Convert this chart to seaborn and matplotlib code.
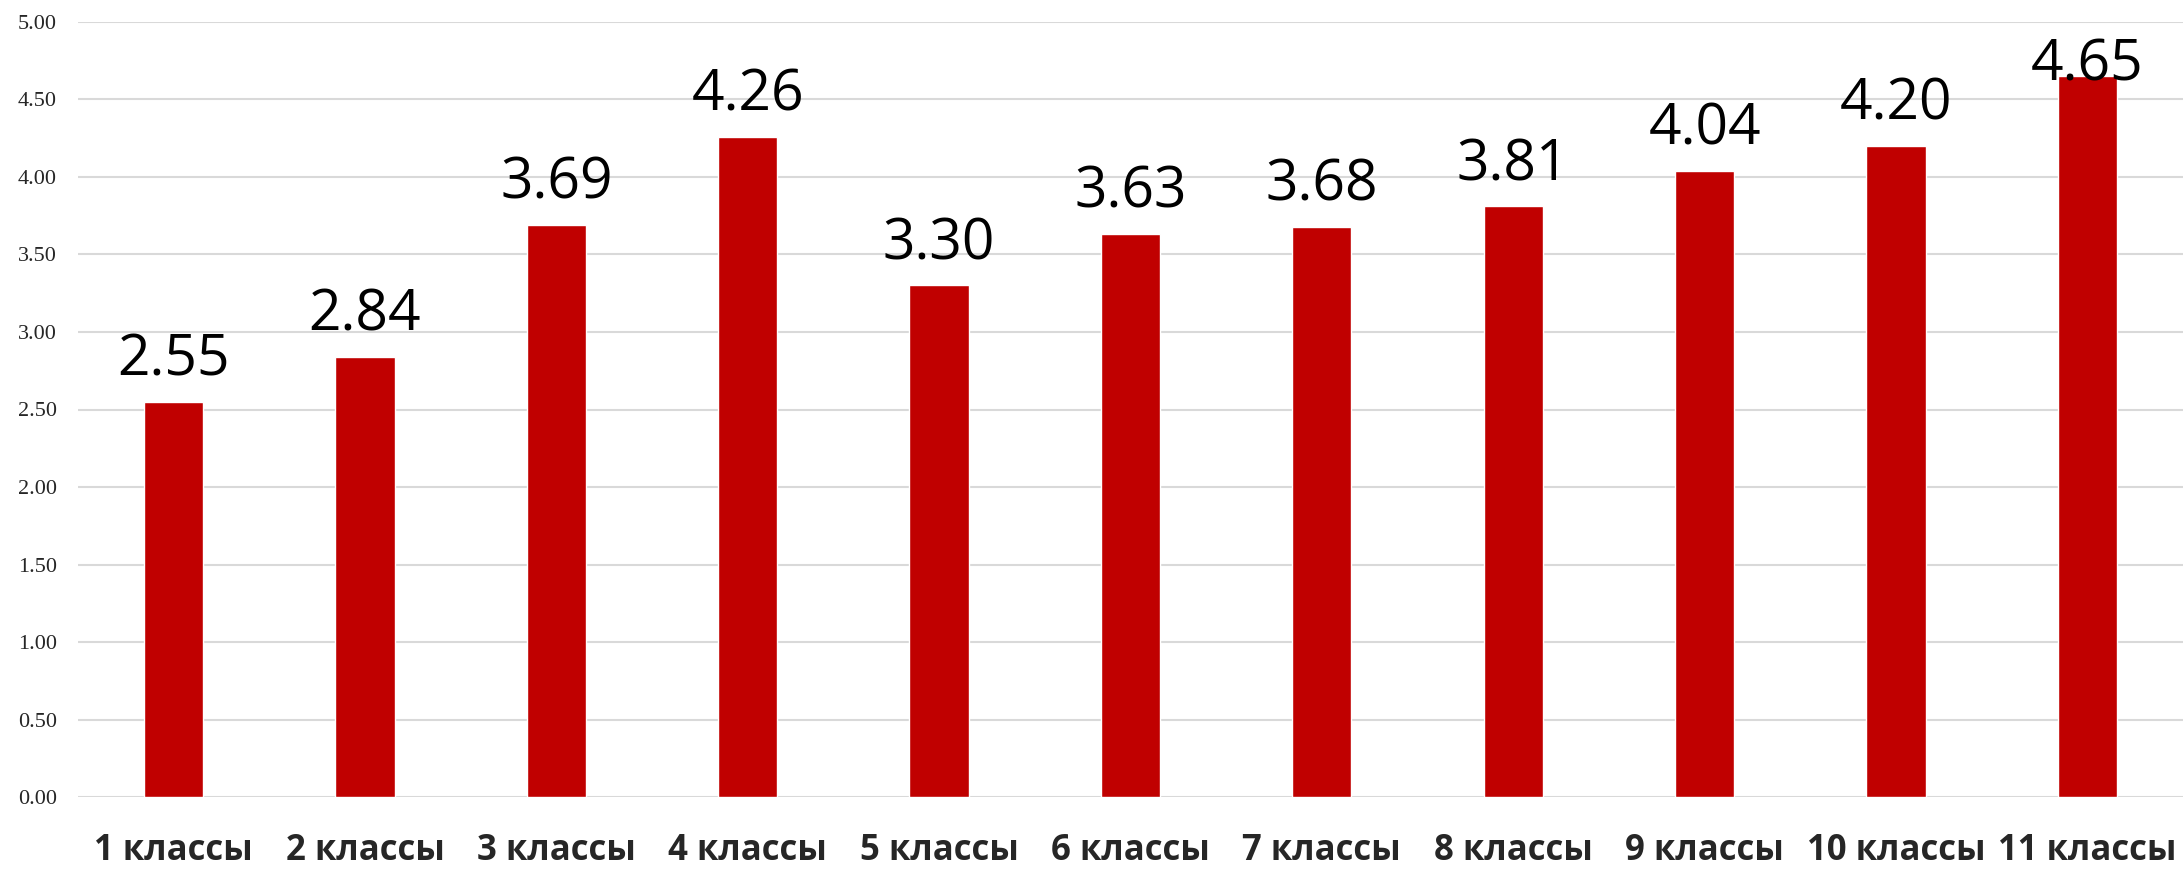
import matplotlib
matplotlib.use("Agg")
import matplotlib.pyplot as plt
import seaborn as sns

# values
classes = ["1 классы", "2 классы", "3 классы", "4 классы", "5 классы", "6 классы",
           "7 классы", "8 классы", "9 классы", "10 классы", "11 классы"]
scores = [2.55, 2.84, 3.69, 4.26, 3.30, 3.63, 3.68, 3.81, 4.04, 4.20, 4.65]
y_ticks = [0.0, 0.5, 1.0, 1.5, 2.0, 2.5, 3.0, 3.5, 4.0, 4.5, 5.0]

sns.set_style("white")

fig = plt.figure(figsize=(21.83, 8.75), dpi=100)
ax = fig.add_axes([0.0357, 0.0891, 0.9643, 0.8858])

sns.barplot(x=classes, y=scores, color="#C00000", saturation=1, width=0.31, ax=ax)

ax.set_ylim(0, 5)
ax.set_xlim(-0.5, len(classes) - 0.5)
ax.set_yticks(y_ticks)
ax.set_yticklabels([f"{t:.2f}" for t in y_ticks], family="Liberation Serif", fontsize=16)
ax.yaxis.grid(True, color="#d9d9d9", linewidth=1.5)
ax.set_axisbelow(True)
ax.tick_params(axis="y", length=0, pad=15)
ax.tick_params(axis="x", length=0, pad=26)
for lab in ax.get_xticklabels():
    lab.set_family("Open Sans")
    lab.set_fontweight("bold")
    lab.set_fontsize(25)
ax.set_xlabel("")
ax.set_ylabel("")
for s in ax.spines.values():
    s.set_visible(False)

# value labels above bars, kept inside the chart like Excel does
for i, v in enumerate(scores):
    ax.text(i, min(v + 0.17, 4.62), f"{v:.2f}", ha="center", va="baseline",
            family="Open Sans", fontsize=41, color="black", clip_on=False)

fig.savefig("out.png", dpi=100)
